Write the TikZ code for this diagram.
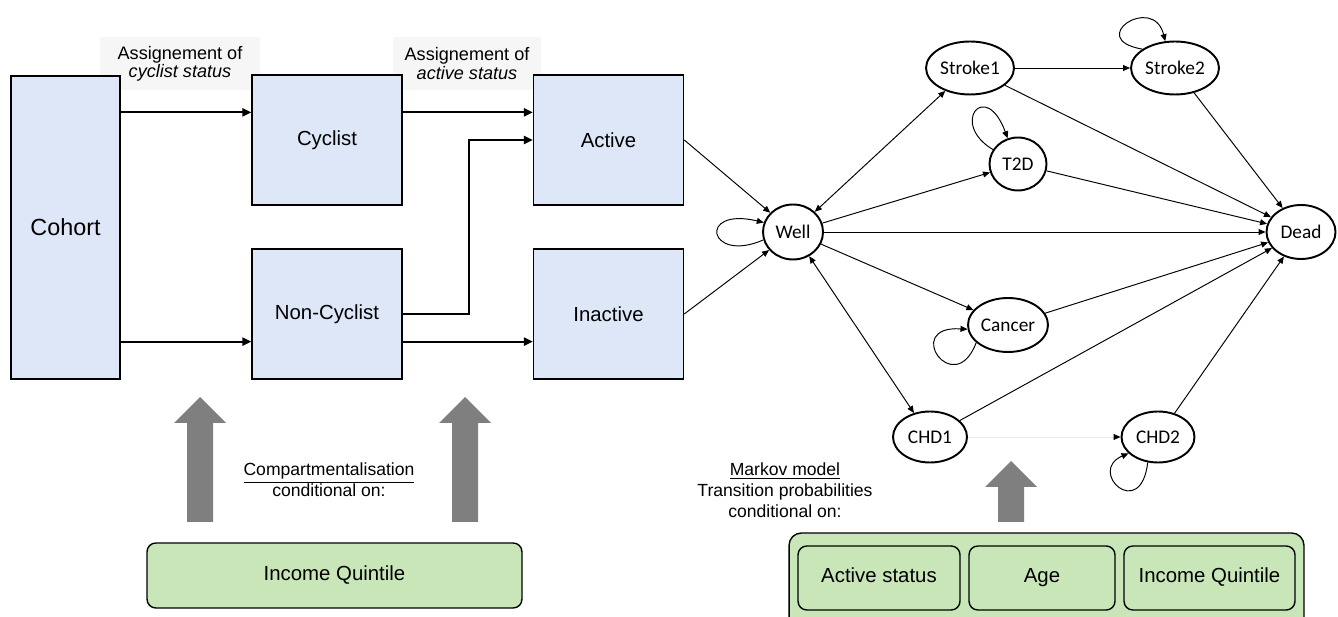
\documentclass[tikz,border=0pt]{standalone}
\usepackage{fontspec}
\setmainfont{Liberation Sans}
\newfontfamily\statefont{Carlito}
\usetikzlibrary{shapes.geometric,arrows.meta,calc}

\definecolor{boxblue}{RGB}{222,231,248}
\definecolor{factorgreen}{RGB}{201,230,185}
\definecolor{arrowgrey}{RGB}{127,127,127}
\definecolor{labelgrey}{RGB}{246,246,246}

\tikzset{
	compartment/.style={draw, line width=0.9pt, fill=boxblue, minimum width=3cm, minimum height=2.6cm, inner sep=0pt, font=\fontsize{11.6}{14}\selectfont},
	assignlabel/.style={fill=labelgrey, minimum height=1.06cm, align=center, inner sep=0pt, font=\fontsize{10.3}{10.4}\selectfont},
	flow/.style={line width=1.15pt, -{Triangle[length=5pt,width=4.6pt]}},
	state/.style={ellipse, draw, line width=1.1pt, fill=white, inner sep=0pt, font=\statefont\fontsize{11}{13}\selectfont},
	trans/.style={line width=0.55pt, ->},
	factor/.style={draw, line width=0.8pt, rounded corners=5pt, fill=factorgreen, inner sep=0pt, text height=0.75em, text depth=0.22em, font=\fontsize{11.6}{14}\selectfont},
	note/.style={align=center, font=\fontsize{10}{11.8}\selectfont},
	blockarrow/.style={fill=arrowgrey},
}

\begin{document}
\begin{tikzpicture}[x=0.02cm, y=-0.02cm, >={Triangle[length=4pt,width=3.4pt]}]
	\useasboundingbox (0,0) rectangle (1338,617);

	% compartments
	\node[assignlabel, minimum width=3.2cm] (assigncyc) at (180, 63.5) {Assignement of\\\itshape cyclist status};
	\node[assignlabel, minimum width=2.96cm] (assignact) at (467, 63.5) {Assignement of\\\itshape active status};

	\node[compartment, minimum width=2.18cm, minimum height=6.06cm, font=\fontsize{13.3}{16}\selectfont] (cohort) at (65.5, 227.5) {Cohort};
	\node[compartment] (cyclist) at (327, 140) {Cyclist};
	\node[compartment] (noncyc) at (327, 314) {Non-Cyclist};
	\node[compartment] (active) at (608.5, 140) {Active};
	\node[compartment] (inactive) at (608.5, 314) {Inactive};

	\coordinate (cyc-in) at ($(cyclist.north west)!.29!(cyclist.south west)$);
	\coordinate (noncyc-in) at ($(noncyc.north west)!.71!(noncyc.south west)$);
	\coordinate (act-in) at ($(active.north west)!.29!(active.south west)$);
	\coordinate (inact-in) at ($(inactive.north west)!.71!(inactive.south west)$);

	\draw[flow] (cohort.east |- cyc-in) -- (cyc-in);
	\draw[flow] (cohort.east |- noncyc-in) -- (noncyc-in);
	\draw[flow] (cyclist.east |- act-in) -- (act-in);
	\draw[flow] (noncyc.east) -- ++(66,0) |- (active.west);
	\draw[flow] (noncyc.east |- inact-in) -- (inact-in);

	% markov states
	\node[state, minimum width=1.2cm, minimum height=1.1cm] (well) at (793, 232) {Well};
	\node[state, minimum width=1.76cm, minimum height=1.06cm] (stroke1) at (970, 68) {Stroke1};
	\node[state, minimum width=1.76cm, minimum height=1.06cm] (stroke2) at (1175, 68) {Stroke2};
	\node[state, minimum width=1.14cm, minimum height=1.06cm] (t2d) at (1018, 164) {T2D};
	\node[state, minimum width=1.38cm, minimum height=1.08cm] (dead) at (1301, 232) {Dead};
	\node[state, minimum width=1.6cm, minimum height=1.08cm] (cancer) at (1008, 325) {Cancer};
	\node[state, minimum width=1.48cm, minimum height=1.02cm] (chd1) at (930, 437) {CHD1};
	\node[state, minimum width=1.46cm, minimum height=1.02cm] (chd2) at (1158, 437) {CHD2};

	\draw[trans] (active.east) -- (well);
	\draw[trans] (inactive.east) -- (well);
	\draw[trans, <->] (well) -- (stroke1);
	\draw[trans, <->] (well) -- (chd1);
	\draw[trans] (well) -- (t2d);
	\draw[trans] (well) -- (dead);
	\draw[trans] (well) -- (cancer);
	\draw[trans] (stroke1) -- (stroke2);
	\draw[trans] (stroke1) -- (dead);
	\draw[trans] (stroke2) -- (dead);
	\draw[trans] (t2d) -- (dead);
	\draw[trans] (cancer) -- (dead);
	\draw[trans] (chd1) -- (dead);
	\draw[trans] (chd2) -- (dead);
	\draw[trans, draw=black!8, -{Triangle[length=4pt,width=3.4pt,color=black]}] (chd1) -- (chd2);

	% self loops
	\draw[trans] (well.195) .. controls +(-55,24) and +(-67,-16) .. (well.162);
	\draw[trans] (stroke2.150) .. controls +(-58,-10) and +(-12,-48) .. (stroke2.110);
	\draw[trans] (t2d.150) .. controls +(-44,-26) and +(-22,-60) .. (t2d.112);
	\draw[trans] (cancer.209) .. controls +(-22,58) and +(-66,-4) .. (cancer.186);
	\draw[trans] (chd2.248) .. controls +(-7,60) and +(-42,18) .. (chd2.209);

	% conditioning factors
	\foreach \x/\t in {200/397, 465/397, 1011/461}
		\fill[blockarrow] (\x-13,522) -- (\x-13,\t+26) -- (\x-26,\t+26) -- (\x,\t) -- (\x+26,\t+26) -- (\x+13,\t+26) -- (\x+13,522) -- cycle;

	\node[note] (compnote) at (329, 480) {\underline{Compartmentalisation}\\conditional on:};
	\node[note] (markovnote) at (785, 490) {\underline{Markov model}\\Transition probabilities\\conditional on:};

	\node[factor, minimum width=7.5cm, minimum height=1.3cm] (income) at (334.5, 575.5) {Income Quintile};

	\node[factor, rounded corners=7pt, minimum width=10.3cm, minimum height=1.94cm] (panel) at (1046.5, 581.5) {};
	\node[factor, minimum width=3.24cm, minimum height=1.28cm] (actstatus) at (879, 578) {Active status};
	\node[factor, minimum width=2.92cm, minimum height=1.28cm] (age) at (1042, 578) {Age};
	\node[factor, minimum width=3.42cm, minimum height=1.28cm] (incomeq) at (1209.5, 578) {Income Quintile};

\end{tikzpicture}
\end{document}
